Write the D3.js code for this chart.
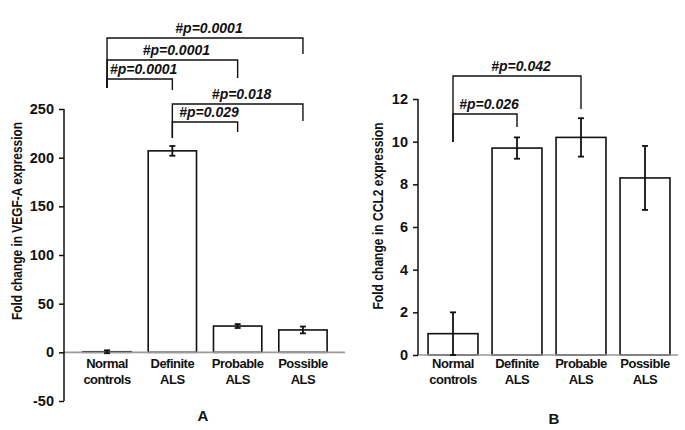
<!DOCTYPE html>
<html>
<head>
<meta charset="utf-8">
<script src="https://cdn.jsdelivr.net/npm/d3@7"></script>
<style>
  html, body { margin: 0; padding: 0; background: #fff; }
  svg text { font-family: "Liberation Sans", Arial, sans-serif; font-weight: bold; fill: #111; }
</style>
</head>
<body>
<svg id="chart" width="685" height="430"></svg>
<script>
// ---------- DATA ----------
const categories = ["Normal controls", "Definite ALS", "Probable ALS", "Possible ALS"];
const categoryLines = [["Normal", "controls"], ["Definite", "ALS"], ["Probable", "ALS"], ["Possible", "ALS"]];

const vegfValues = [0.6, 207, 27, 23];
const vegfErrors = [1.5, 5, 2, 3.5];
const vegfTicks = [-50, 0, 50, 100, 150, 200, 250];

const ccl2Values = [1.0, 9.7, 10.2, 8.3];
const ccl2Errors = [1.0, 0.5, 0.9, 1.5];
const ccl2Ticks = [0, 2, 4, 6, 8, 10, 12];

// comparisons: [from index, to index, label]
const vegfComparisons = [
  [0, 3, "#p=0.0001"],
  [0, 2, "#p=0.0001"],
  [0, 1, "#p=0.0001"],
  [1, 3, "#p=0.018"],
  [1, 2, "#p=0.029"]
];
const ccl2Comparisons = [
  [0, 2, "#p=0.042"],
  [0, 1, "#p=0.026"]
];

// ---------- LAYOUT ----------
const panels = [
  {
    values: vegfValues, errors: vegfErrors, ticks: vegfTicks,
    comparisons: vegfComparisons,
    domain: [-50, 250], yRange: [401, 109],
    axisX: 64, xRange: [74.4, 335.6], pInner: 0.26, zeroEnd: 345,
    yLabel: "Fold change in VEGF-A expression", yLabelX: 17, yLabelY: 221, yLabelLen: 198,
    panelLabel: "A", panelLabelX: 203, panelLabelY: 421,
    capW: 6,
    // bracket layout: [top y, left drop end y, right drop end y]
    bracketLayout: [[38, 88, 54], [60, 88, 78], [79, 88, 90], [104, 138, 121], [122, 138, 132]]
  },
  {
    values: ccl2Values, errors: ccl2Errors, ticks: ccl2Ticks,
    comparisons: ccl2Comparisons,
    domain: [0, 12], yRange: [355, 99],
    axisX: 418, xRange: [421, 677], pInner: 0.22, zeroEnd: 678,
    yLabel: "Fold change in CCL2 expression", yLabelX: 378, yLabelY: 216, yLabelLen: 187,
    panelLabel: "B", panelLabelX: 554, panelLabelY: 424,
    capW: 6,
    bracketLayout: [[76, 142, 109], [114, 142, 127]]
  }
];

const svg = d3.select("#chart");

panels.forEach(p => {
  const g = svg.append("g");
  const y = d3.scaleLinear().domain(p.domain).range(p.yRange);
  const x = d3.scaleBand().domain(categories).range(p.xRange)
    .paddingInner(p.pInner).paddingOuter(p.pInner / 2);

  // bars
  g.selectAll("rect.bar").data(p.values).join("rect")
    .attr("class", "bar")
    .attr("x", (d, i) => x(categories[i]))
    .attr("width", x.bandwidth())
    .attr("y", d => y(d))
    .attr("height", d => y(0) - y(d))
    .attr("fill", "#fff").attr("stroke", "#111").attr("stroke-width", 1.6);

  // zero line (gray), drawn over bar bottoms
  g.append("line")
    .attr("x1", p.axisX).attr("x2", p.zeroEnd)
    .attr("y1", y(0)).attr("y2", y(0))
    .attr("stroke", "#9a9a9a").attr("stroke-width", 1.6);

  // y axis
  const axis = d3.axisLeft(y).tickValues(p.ticks).tickSize(5).tickPadding(5)
    .tickFormat(d => String(d));
  const ag = g.append("g").attr("transform", `translate(${p.axisX},0)`).call(axis);
  ag.select(".domain").attr("stroke", "#111").attr("stroke-width", 1.5)
    .attr("d", `M0,${y(p.domain[0])}V${y(p.domain[1])}`);
  ag.selectAll(".tick line").attr("stroke", "#111").attr("stroke-width", 1.5);
  ag.selectAll(".tick text").style("font-size", "14.5px").attr("fill", "#111")
    .style("font-weight", "bold").style("font-family", '"Liberation Sans", Arial, sans-serif');

  // error bars
  const eg = g.selectAll("g.err").data(p.values).join("g").attr("class", "err");
  eg.each(function (d, i) {
    const cx = x(categories[i]) + x.bandwidth() / 2;
    const e = p.errors[i];
    const s = d3.select(this);
    s.append("line").attr("x1", cx).attr("x2", cx)
      .attr("y1", y(d - e)).attr("y2", y(d + e))
      .attr("stroke", "#111").attr("stroke-width", 1.8);
    [d - e, d + e].forEach(v => {
      s.append("line").attr("x1", cx - p.capW / 2).attr("x2", cx + p.capW / 2)
        .attr("y1", y(v)).attr("y2", y(v))
        .attr("stroke", "#111").attr("stroke-width", 1.8);
    });
  });

  // category labels
  categoryLines.forEach((lines, i) => {
    const cx = x(categories[i]) + x.bandwidth() / 2;
    const t = g.append("text").attr("text-anchor", "middle")
      .style("font-size", "13px").style("letter-spacing", "-0.5px");
    lines.forEach((ln, k) => {
      t.append("tspan").attr("x", cx).attr("y", 368 + k * 15.5).text(ln);
    });
  });

  // y label
  g.append("text")
    .attr("transform", `translate(${p.yLabelX},${p.yLabelY}) rotate(-90)`)
    .attr("text-anchor", "middle").attr("dy", "0.35em")
    .attr("textLength", p.yLabelLen).attr("lengthAdjust", "spacingAndGlyphs")
    .style("font-size", "14px")
    .text(p.yLabel);

  // panel label
  g.append("text").attr("x", p.panelLabelX).attr("y", p.panelLabelY)
    .attr("text-anchor", "middle").style("font-size", "15px").text(p.panelLabel);

  // brackets
  p.comparisons.forEach((c, k) => {
    const [a, b, label] = c;
    const [top, leftEnd, rightEnd] = p.bracketLayout[k];
    const xa = x(categories[a]) + x.bandwidth() / 2;
    const xb = x(categories[b]) + x.bandwidth() / 2;
    g.append("path")
      .attr("d", `M${xa},${leftEnd}V${top}H${xb}V${rightEnd}`)
      .attr("fill", "none").attr("stroke", "#111").attr("stroke-width", 1.4);
    g.append("text")
      .attr("x", (xa + xb) / 2 + 4).attr("y", top - 5)
      .attr("text-anchor", "middle")
      .style("font-size", "14px").style("font-style", "italic")
      .text(label);
  });
});
</script>
</body>
</html>
